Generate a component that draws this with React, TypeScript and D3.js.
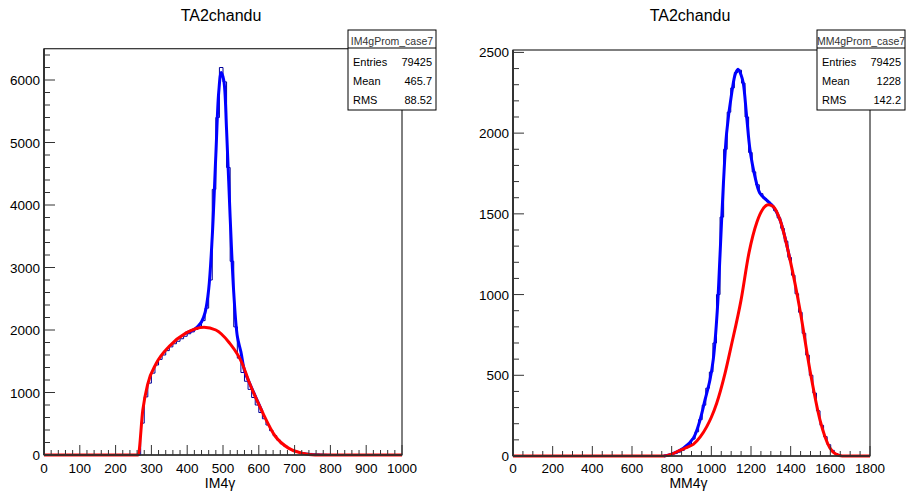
import React from 'react';
import * as d3 from 'd3';

// ---------- Data: left panel (IM4γ), 100 bins of width 10 over [0,1000) ----------
const imCounts = [
  0, 0, 0, 0, 0, 0, 0, 0, 0, 0,
  0, 0, 0, 0, 0, 0, 0, 0, 0, 0,
  0, 0, 0, 0, 0, 0, 0, 510, 930, 1150,
  1310, 1440, 1530, 1600, 1670, 1730, 1780, 1820, 1860, 1900,
  1940, 1970, 2010, 2060, 2150, 2350, 2800, 4250, 5400, 6200,
  5970, 4600, 3100, 2050, 1550, 1320, 1180, 1050, 920, 800,
  680, 580, 480, 390, 310, 240, 180, 140, 105, 80,
  60, 45, 35, 30, 25, 20, 18, 15, 12, 10,
  8, 6, 5, 4, 3, 2, 1, 1, 0, 0,
  0, 0, 0, 0, 0, 0, 0, 0, 0, 0,
];
const imRedX = [0, 263, 276, 290, 313, 350, 396, 447, 480, 517, 554, 572, 609, 646, 683, 720, 757, 1000];
const imRedY = [0, 0, 720, 1140, 1460, 1740, 1950, 2045, 2000, 1800, 1460, 1180, 700, 300, 110, 30, 0, 0];
const imBlueX = [396, 420, 430, 440, 450, 460, 470, 480, 488, 495, 502, 510, 520, 530, 540, 550, 560, 572, 609];
const imBlueY = [1950, 2010, 2060, 2130, 2280, 2650, 3500, 4800, 5800, 6120, 6000, 5200, 3800, 2600, 1900, 1650, 1350, 1180, 700];
const imXTicks = [0, 100, 200, 300, 400, 500, 600, 700, 800, 900, 1000];
const imYTicks = [0, 1000, 2000, 3000, 4000, 5000, 6000];
const imStats = [["Entries", "79425"], ["Mean", "465.7"], ["RMS", "88.52"]];

// ---------- Data: right panel (MM4γ), 100 bins of width 18 over [0,1800) ----------
const mmCounts = [
  0, 0, 0, 0, 0, 0, 0, 0, 0, 0,
  0, 0, 0, 0, 0, 0, 0, 0, 0, 0,
  0, 0, 0, 0, 0, 0, 0, 0, 0, 0,
  0, 0, 0, 0, 0, 0, 0, 0, 0, 0,
  0, 1, 3, 5, 9, 15, 24, 35, 50, 70,
  105, 150, 225, 315, 420, 520, 700, 1000, 1480, 1900,
  2130, 2280, 2375, 2390, 2310, 2100, 1880, 1760, 1680, 1625,
  1595, 1575, 1550, 1520, 1475, 1410, 1330, 1230, 1120, 1005,
  890, 760, 625, 500, 390, 280, 190, 120, 70, 35,
  15, 5, 2, 0, 0, 0, 0, 0, 0, 0,
];
const mmRedX = [0, 760, 800, 842, 880, 909, 945, 977, 1000, 1027, 1069, 1100, 1150, 1190, 1230, 1260, 1287, 1312, 1346, 1397, 1447, 1497, 1548, 1598, 1630, 1660, 1800];
const mmRedY = [0, 0, 12, 35, 55, 72, 120, 182, 240, 327, 512, 680, 967, 1260, 1450, 1530, 1556, 1545, 1463, 1215, 905, 533, 223, 50, 10, 0, 0];
const mmBlueX = [760, 800, 859, 909, 943, 968, 993, 1010, 1030, 1044, 1061, 1077, 1103, 1122, 1136, 1150, 1161, 1178, 1195, 1220, 1245, 1287, 1312, 1346, 1397];
const mmBlueY = [0, 12, 48, 110, 223, 347, 471, 600, 900, 1250, 1690, 2000, 2250, 2370, 2395, 2360, 2310, 2103, 1897, 1731, 1628, 1576, 1545, 1463, 1215];
const mmXTicks = [0, 200, 400, 600, 800, 1000, 1200, 1400, 1600, 1800];
const mmYTicks = [0, 500, 1000, 1500, 2000, 2500];
const mmStats = [["Entries", "79425"], ["Mean", "1228"], ["RMS", "142.2"]];

const FONT = "'Liberation Sans', Arial, Helvetica, sans-serif";

type PanelProps = {
  left: number; right: number; top: number; bottom: number;
  xMax: number; yMax: number; binW: number;
  counts: number[];
  redX: number[]; redY: number[]; blueX: number[]; blueY: number[];
  xTicks: number[]; yTicks: number[]; xMinor: number; yMinor: number;
  title: string; titleX: number; xTitle: string;
  statName: string; stats: string[][]; boxL: number; boxR: number;
};

function Panel(p: PanelProps) {
  const x = d3.scaleLinear().domain([0, p.xMax]).range([p.left, p.right]);
  const y = d3.scaleLinear().domain([0, p.yMax]).range([p.bottom, p.top]);

  let hist = `M${x(0)},${y(0)}`;
  p.counts.forEach((c, i) => {
    const lo = i * p.binW;
    hist += `L${x(lo)},${y(c)}L${x(lo + p.binW)},${y(c)}`;
  });
  hist += `L${x(p.xMax)},${y(0)}`;

  const redLine = d3.line<[number, number]>().x(d => x(d[0])).y(d => y(d[1])).curve(d3.curveMonotoneX);
  const blueLine = d3.line<[number, number]>().x(d => x(d[0])).y(d => y(d[1])).curve(d3.curveCatmullRom.alpha(0.5));
  const red = redLine(p.redX.map((v, i) => [v, p.redY[i]] as [number, number])) || '';
  const blue = blueLine(p.blueX.map((v, i) => [v, p.blueY[i]] as [number, number])) || '';

  const xMinorTicks = d3.range(0, p.xMax + 0.001, p.xMinor);
  const yMinorTicks = d3.range(0, p.yMax + 0.001, p.yMinor);

  return (
    <g>
      <text x={p.titleX} y={21} textAnchor="middle" fontSize={16} fontFamily={FONT} fill="#000">{p.title}</text>
      <path d={hist} fill="none" stroke="#000099" strokeWidth={1} />
      <path d={blue} fill="none" stroke="#0000ff" strokeWidth={3} />
      <path d={red} fill="none" stroke="#ff0000" strokeWidth={3} />
      <rect x={p.left} y={p.top} width={p.right - p.left} height={p.bottom - p.top} fill="none" stroke="#000" strokeWidth={1} />
      {xMinorTicks.map((t, i) => {
        const major = p.xTicks.includes(Math.round(t));
        return <line key={'xm' + i} x1={x(t)} x2={x(t)} y1={p.bottom} y2={p.bottom - (major ? 10 : 5)} stroke="#333" strokeWidth={1} />;
      })}
      {p.xTicks.map(t => (
        <text key={'xt' + t} x={x(t)} y={473} textAnchor="middle" fontSize={13.5} fontFamily={FONT} fill="#000">{t}</text>
      ))}
      {yMinorTicks.map((t, i) => {
        const major = p.yTicks.includes(Math.round(t));
        return <line key={'ym' + i} x1={p.left} x2={p.left + (major ? 11 : 6)} y1={y(t)} y2={y(t)} stroke="#333" strokeWidth={1} />;
      })}
      <line x1={p.left} x2={p.left} y1={p.top} y2={p.bottom} stroke="#333" strokeWidth={2} />
      <line x1={p.left} x2={p.right} y1={p.bottom} y2={p.bottom} stroke="#333" strokeWidth={1.5} />
      {p.yTicks.map(t => (
        <text key={'yt' + t} x={p.left - 4} y={y(t) + 5} textAnchor="end" fontSize={13.5} fontFamily={FONT} fill="#000">{t}</text>
      ))}
      <text x={(p.left + p.right) / 2 - 3} y={488} textAnchor="middle" fontSize={14} fontFamily={FONT} fill="#000">{p.xTitle}</text>
      <rect x={p.boxL} y={30} width={p.boxR - p.boxL} height={80} fill="#fff" stroke="#000" strokeWidth={1} />
      <line x1={p.boxL} x2={p.boxR} y1={48} y2={48} stroke="#000" strokeWidth={1} />
      <text x={(p.boxL + p.boxR) / 2} y={44.5} textAnchor="middle" fontSize={10.5} fontFamily={FONT} fill="#333">{p.statName}</text>
      {p.stats.map((s, i) => (
        <g key={s[0]}>
          <text x={p.boxL + 5} y={65.5 + i * 19.3} fontSize={11} fontFamily={FONT} fill="#000">{s[0]}</text>
          <text x={p.boxR - 4} y={65.5 + i * 19.3} textAnchor="end" fontSize={11} fontFamily={FONT} fill="#000">{s[1]}</text>
        </g>
      ))}
    </g>
  );
}

export default function App() {
  return (
    <svg width={906} height={494} style={{ position: 'absolute', left: 0, top: 0, background: '#fff' }}>
      <rect x={0} y={0} width={906} height={494} fill="#fff" />
      <Panel left={44} right={402} top={48.75} bottom={455} xMax={1000} yMax={6500} binW={10}
        counts={imCounts} redX={imRedX} redY={imRedY} blueX={imBlueX} blueY={imBlueY}
        xTicks={imXTicks} yTicks={imYTicks} xMinor={20} yMinor={200}
        title="TA2chandu" titleX={221} xTitle="IM4γ" statName="IM4gProm_case7" stats={imStats} boxL={348} boxR={436} />
      <Panel left={513} right={870} top={50} bottom={456} xMax={1800} yMax={2515} binW={18}
        counts={mmCounts} redX={mmRedX} redY={mmRedY} blueX={mmBlueX} blueY={mmBlueY}
        xTicks={mmXTicks} yTicks={mmYTicks} xMinor={50} yMinor={100}
        title="TA2chandu" titleX={690} xTitle="MM4γ" statName="MM4gProm_case7" stats={mmStats} boxL={817} boxR={905} />
    </svg>
  );
}
